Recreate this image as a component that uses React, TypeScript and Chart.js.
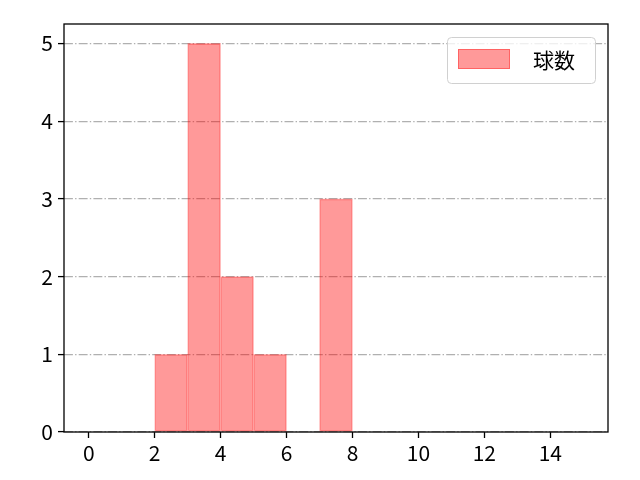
import React, { useEffect, useRef } from 'react';
import { Chart, registerables } from 'chart.js';

Chart.register(...registerables);

// histogram bins (left edge) and counts
const binStarts = [2, 3, 4, 5, 7];
const counts = [1, 5, 2, 1, 3];
const xTicks = [0, 2, 4, 6, 8, 10, 12, 14];
const yTicks = [0, 1, 2, 3, 4, 5];
const seriesLabel = '球数';

const FONT = '"Noto Sans CJK JP", "Noto Sans", sans-serif';
const FILL = 'rgba(255, 0, 0, 0.4)';
const EDGE = 'rgba(255, 0, 0, 0.3)';

// black box round the plot area
const framePlugin = {
    id: 'frame',
    afterDatasetsDraw(chart: any) {
        const { ctx, chartArea: a } = chart;
        ctx.save();
        ctx.strokeStyle = '#000';
        ctx.lineWidth = 1.3;
        ctx.strokeRect(a.left, a.top, a.right - a.left, a.bottom - a.top);
        ctx.restore();
    }
};

// matplotlib-style legend in the upper right corner
const legendPlugin = {
    id: 'boxLegend',
    afterDraw(chart: any) {
        const { ctx, chartArea: a } = chart;
        const ds = chart.data.datasets[0];
        const right = a.right - 13;
        const top = a.top + 13;
        const w = 148;
        const h = 46;
        const x = right - w;
        ctx.save();
        ctx.beginPath();
        ctx.roundRect(x + 0.5, top + 0.5, w, h, 4);
        ctx.fillStyle = 'rgba(255,255,255,0.8)';
        ctx.fill();
        ctx.strokeStyle = '#d0d0d0';
        ctx.lineWidth = 1;
        ctx.stroke();
        ctx.fillStyle = ds.backgroundColor;
        ctx.fillRect(x + 11, top + 12, 52, 20);
        ctx.strokeStyle = 'rgba(255, 0, 0, 0.35)';
        ctx.strokeRect(x + 11.5, top + 12.5, 51, 19);
        ctx.fillStyle = '#000';
        ctx.font = `21px ${FONT}`;
        ctx.textBaseline = 'middle';
        ctx.fillText(ds.label, x + 86, top + 23);
        ctx.restore();
    }
};

export default function App() {
    const canvasRef = useRef<HTMLCanvasElement>(null);

    useEffect(() => {
        const ctx = canvasRef.current?.getContext('2d');
        if (!ctx) return;

        const chart = new Chart(ctx, {
            type: 'bar',
            data: {
                datasets: [{
                    label: seriesLabel,
                    data: binStarts.map((s, i) => ({ x: s + 0.5, y: counts[i] })),
                    backgroundColor: FILL,
                    borderColor: EDGE,
                    borderWidth: 1,
                    borderSkipped: false,
                    barPercentage: 1,
                    categoryPercentage: 1
                }]
            },
            options: {
                animation: false,
                responsive: false,
                maintainAspectRatio: false,
                layout: { padding: { left: 0, top: 24, right: 32, bottom: 0 } },
                plugins: {
                    legend: { display: false },
                    tooltip: { enabled: false }
                },
                scales: {
                    x: {
                        type: 'linear',
                        min: -0.75,
                        max: 15.75,
                        offset: false,
                        afterBuildTicks: (scale: any) => {
                            scale.ticks = xTicks.map(v => ({ value: v }));
                        },
                        afterFit: (scale: any) => {
                            scale.height = 48;
                        },
                        grid: {
                            drawOnChartArea: false,
                            drawTicks: true,
                            tickLength: 6,
                            tickColor: '#000',
                            tickWidth: 1.3,
                            offset: false
                        },
                        border: { display: false },
                        ticks: {
                            color: '#000',
                            padding: 2,
                            maxRotation: 0,
                            font: { family: FONT, size: 21 }
                        }
                    },
                    y: {
                        min: 0,
                        max: 5.25,
                        afterBuildTicks: (scale: any) => {
                            scale.ticks = yTicks.map(v => ({ value: v }));
                        },
                        afterFit: (scale: any) => {
                            scale.width = 64;
                        },
                        grid: {
                            drawOnChartArea: true,
                            drawTicks: true,
                            tickLength: 6,
                            tickColor: '#000',
                            tickWidth: 1.3,
                            tickBorderDash: [],
                            color: '#b0b0b0',
                            lineWidth: 1.2
                        },
                        border: { display: false, dash: [8.9, 2.2, 1.4, 2.2] },
                        ticks: {
                            color: '#000',
                            padding: 5,
                            font: { family: FONT, size: 21 }
                        }
                    }
                }
            },
            plugins: [framePlugin, legendPlugin]
        });

        return () => {
            chart.destroy();
        };
    }, []);

    return (
        <div style={{ position: 'fixed', left: 0, top: 0, width: 640, height: 480, background: '#fff' }}>
            <canvas ref={canvasRef} width={640} height={480}></canvas>
        </div>
    );
}
